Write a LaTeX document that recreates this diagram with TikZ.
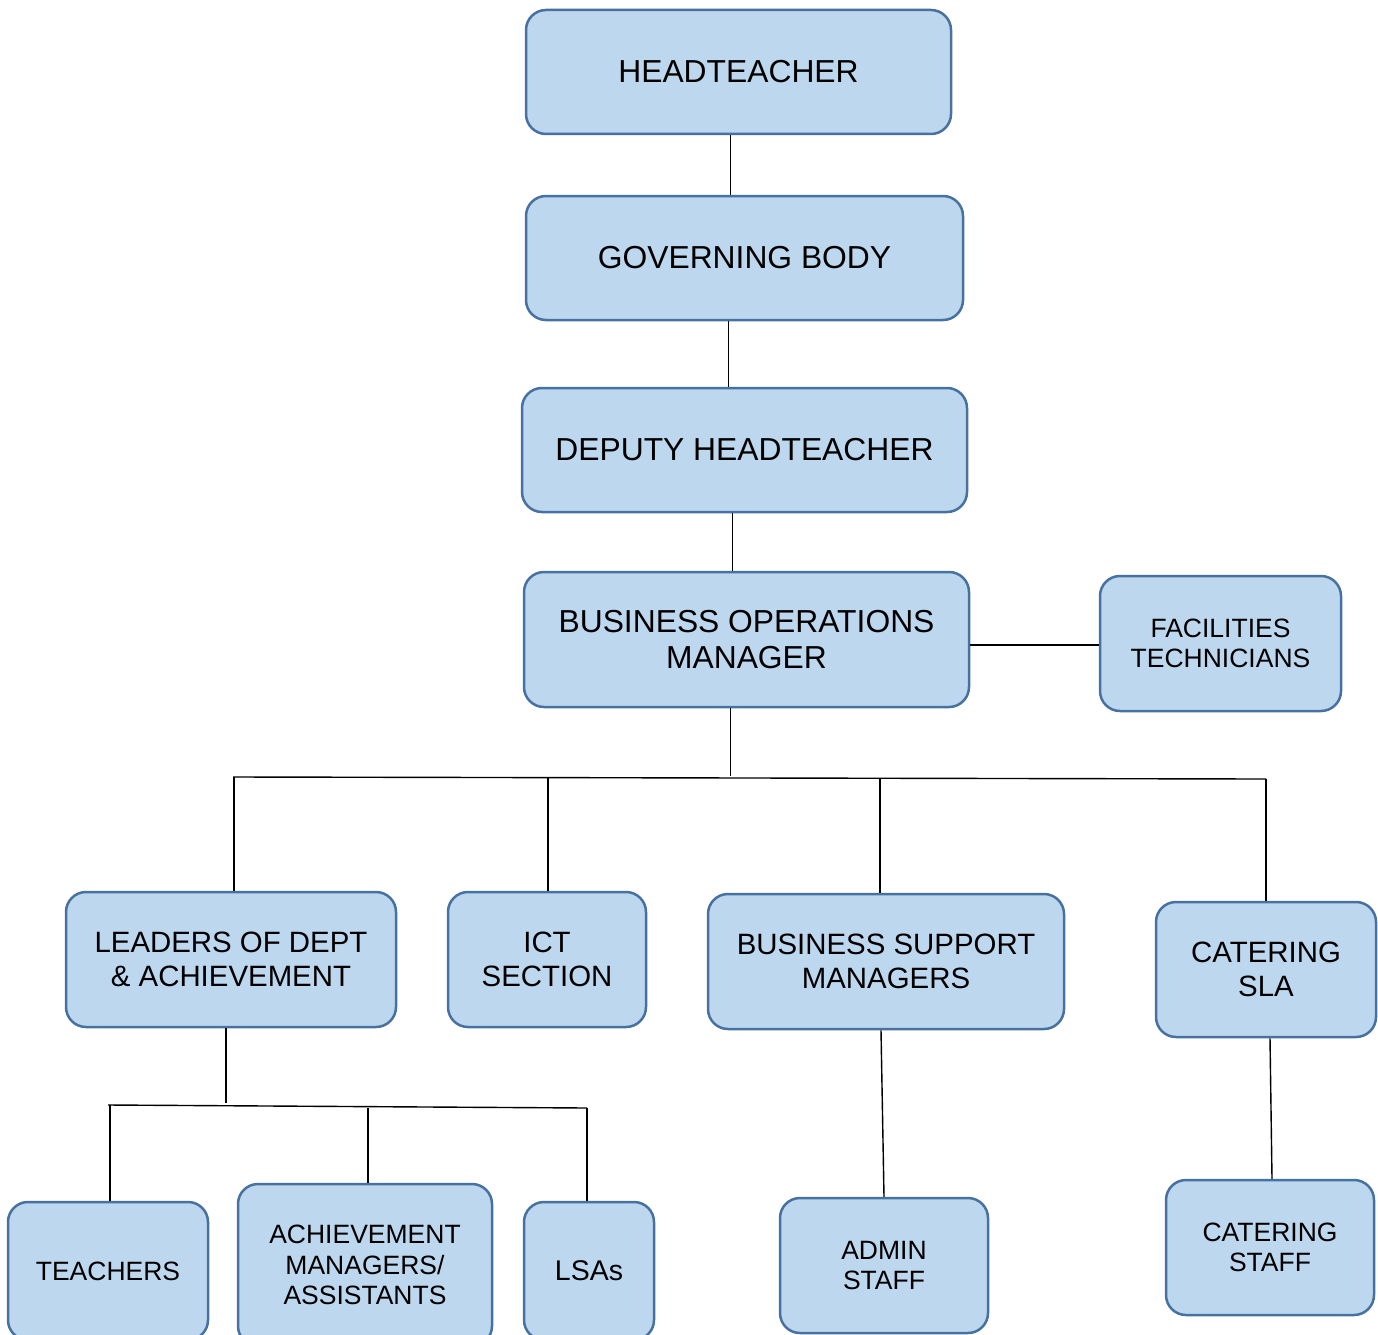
\documentclass[tikz,border=0pt]{standalone}
\usepackage{fontspec}
\setmainfont{Liberation Sans}
\usetikzlibrary{calc}
\definecolor{boxfill}{RGB}{189,215,238}
\definecolor{boxline}{RGB}{71,113,160}

\tikzset{
  orgbox/.style={draw=boxline, fill=boxfill, line width=2.5pt, rounded corners=20pt, align=center, inner sep=0pt},
  bigtext/.style={font=\fontsize{31.8}{36.5}\selectfont},
  midtext/.style={font=\fontsize{29.4}{34.5}\selectfont},
  smalltext/.style={font=\fontsize{26.5}{30.5}\selectfont},
  link/.style={line width=1.4pt, black}
}

\begin{document}
\begin{tikzpicture}[x=1pt, y=-1pt]
        \useasboundingbox (0,0) rectangle (1378,1335);

        \node[orgbox, bigtext, minimum width=425, minimum height=124](head) at (738.5,72) {HEADTEACHER};
        \node[orgbox, bigtext, minimum width=437, minimum height=124](gov) at (744.5,258) {GOVERNING BODY};
        \node[orgbox, bigtext, minimum width=445, minimum height=124](deputy) at (744.5,450) {DEPUTY HEADTEACHER};
        \node[orgbox, bigtext, minimum width=445, minimum height=135](bom) at (746.5,639.5) {BUSINESS OPERATIONS\\MANAGER};
        \node[orgbox, smalltext, minimum width=241, minimum height=135](facilities) at (1220.5,643.5) {FACILITIES\\TECHNICIANS};

        \node[orgbox, midtext, minimum width=330, minimum height=135](leaders) at (231,959.5) {LEADERS OF DEPT\\\& ACHIEVEMENT};
        \node[orgbox, midtext, minimum width=198, minimum height=135](ict) at (547,959.5) {ICT\\SECTION};
        \node[orgbox, midtext, minimum width=356, minimum height=135](bsm) at (886,961.5) {BUSINESS SUPPORT\\MANAGERS};
        \node[orgbox, midtext, minimum width=220, minimum height=135](cateringsla) at (1266,969.5) {CATERING\\SLA};

        \node[orgbox, smalltext, minimum width=200, minimum height=138](teachers) at (108,1271) {TEACHERS};
        \node[orgbox, smalltext, minimum width=254, minimum height=162](achieve) at (365,1265) {ACHIEVEMENT\\MANAGERS/\\ASSISTANTS};
        \node[orgbox, font=\fontsize{28.5}{33}\selectfont, minimum width=130, minimum height=138](lsas) at (589,1271) {LSAs};
        \node[orgbox, smalltext, minimum width=208, minimum height=135](admin) at (884,1265.5) {ADMIN\\STAFF};
        \node[orgbox, smalltext, minimum width=208, minimum height=135](cateringstaff) at (1270,1247.5) {CATERING\\STAFF};

        \coordinate (busone) at (233,777);
        \coordinate (busoneend) at (1266,779);
        \coordinate (bustwo) at (108,1105);
        \coordinate (bustwoend) at (587,1108);

        \draw[link] ([xshift=-8pt]head.south) -- ([xshift=-8pt]head.south |- gov.north);
        \draw[link] ([xshift=-16pt]gov.south) -- ([xshift=-16pt]gov.south |- deputy.north);
        \draw[link] ([xshift=-12pt]deputy.south) -- ([xshift=-12pt]deputy.south |- bom.north);
        \draw[link] ([yshift=-1.5pt]bom.east |- facilities.west) -- ([yshift=-1.5pt]facilities.west);

        \draw[link] ([xshift=-16pt]bom.south) -- ++(0,68);
        \draw[link] (busone) -- (busoneend);
        \draw[link] ([xshift=3pt]leaders.north |- busone) -- ([xshift=3pt]leaders.north);
        \draw[link] ([xshift=1pt]ict.north |- busone) -- ([xshift=1pt]ict.north);
        \draw[link] ([xshift=-6pt]bsm.north |- busoneend) -- ([xshift=-6pt]bsm.north);
        \draw[link] (busoneend) -- (cateringsla.north);

        \draw[link] ([xshift=-5pt]leaders.south) -- ++(0,75);
        \draw[link] (bustwo) -- (bustwoend);
        \draw[link] ([xshift=2pt]teachers.north |- bustwo) -- ([xshift=2pt]teachers.north);
        \draw[link] ([xshift=3pt]achieve.north |- bustwoend) -- ([xshift=3pt]achieve.north);
        \draw[link] (bustwoend) -- ([xshift=-2pt]lsas.north);

        \draw[link] ([xshift=-5pt]bsm.south) -- (admin.north);
        \draw[link] ([xshift=4pt]cateringsla.south) -- ([xshift=2pt]cateringstaff.north);
\end{tikzpicture}
\end{document}
